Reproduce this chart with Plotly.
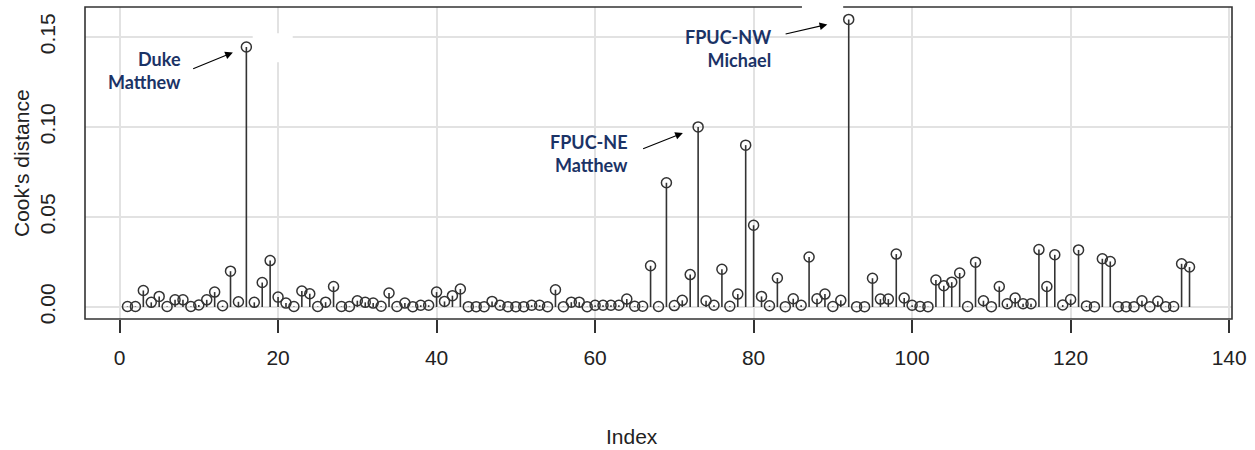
import plotly.graph_objects as go

# Cook's distance for each observation (index 1..135)
index = list(range(1, 136))
cooks_d = [
    0.0003, 0.0003, 0.0092, 0.0026, 0.0059, 0.0003, 0.0040, 0.0040, 0.0003, 0.0011,
    0.0040, 0.0083, 0.0007, 0.0199, 0.0029, 0.1444, 0.0026, 0.0136, 0.0258, 0.0055,
    0.0022, 0.0003, 0.0089, 0.0074, 0.0003, 0.0027, 0.0114, 0.0003, 0.0003, 0.0035,
    0.0026, 0.0022, 0.0004, 0.0078, 0.0003, 0.0022, 0.0002, 0.0010, 0.0010, 0.0083,
    0.0031, 0.0063, 0.0100, 0.0002, 0.0002, 0.0002, 0.0031, 0.0010, 0.0002, 0.0002,
    0.0002, 0.0010, 0.0010, 0.0002, 0.0096, 0.0002, 0.0027, 0.0027, 0.0002, 0.0010,
    0.0010, 0.0010, 0.0010, 0.0044, 0.0004, 0.0004, 0.0229, 0.0003, 0.0690, 0.0008,
    0.0037, 0.0180, 0.1000, 0.0035, 0.0010, 0.0210, 0.0004, 0.0072, 0.0899, 0.0454,
    0.0059, 0.0007, 0.0161, 0.0002, 0.0046, 0.0010, 0.0278, 0.0046, 0.0072, 0.0003,
    0.0037, 0.1597, 0.0002, 0.0002, 0.0160, 0.0044, 0.0044, 0.0294, 0.0050, 0.0010,
    0.0003, 0.0002, 0.0150, 0.0118, 0.0138, 0.0189, 0.0003, 0.0249, 0.0035, 0.0002,
    0.0114, 0.0018, 0.0050, 0.0018, 0.0018, 0.0319, 0.0114, 0.0290, 0.0011, 0.0042,
    0.0317, 0.0006, 0.0002, 0.0268, 0.0253, 0.0002, 0.0002, 0.0002, 0.0035, 0.0002,
    0.0032, 0.0002, 0.0003, 0.0240, 0.0222,
]

x_ticks = [0, 20, 40, 60, 80, 100, 120, 140]
y_ticks = [0.00, 0.05, 0.10, 0.15]
y_tick_text = ["0.00", "0.05", "0.10", "0.15"]

# Labelled influential observations: (index, label text)
callouts = [
    (16, "Duke<br>Matthew"),
    (73, "FPUC-NE<br>Matthew"),
    (92, "FPUC-NW<br>Michael"),
]
# text anchor (x, y) and arrow tail offset / head standoff in px
callout_text_pos = [(7.95, 0.1315), (64.4, 0.0855), (82.45, 0.1434)]
callout_arrow = [(-54.7, 22.3, 14.6), (-56.5, 22.3, 16.4), (-64.6, 15.0, 22.0)]

INK = "#333333"
NAVY = "#1B3366"
GRID = "#e2e2e2"
TEXT = "#222222"

# vertical stems from 0 to each value (type="h")
stem_x, stem_y = [], []
for i, d in zip(index, cooks_d):
    stem_x += [i, i, None]
    stem_y += [0, d, None]

fig = go.Figure()
fig.add_trace(go.Scatter(
    x=stem_x, y=stem_y, mode="lines",
    line=dict(color=INK, width=1.6), hoverinfo="skip", showlegend=False,
))
fig.add_trace(go.Scatter(
    x=index, y=cooks_d, mode="markers",
    marker=dict(symbol="circle-open", size=10, color=INK, line=dict(width=1.5, color=INK)),
    showlegend=False,
))

annotations = []
for (i, label), (tx, ty), (ax, ay, so) in zip(callouts, callout_text_pos, callout_arrow):
    d = cooks_d[index.index(i)]
    annotations.append(dict(
        x=tx, y=ty, xref="x", yref="y", text=f"<b>{label}</b>", showarrow=False,
        xanchor="right", yanchor="middle", align="right",
        font=dict(family="Lato", size=18, color=NAVY),
    ))
    annotations.append(dict(
        x=i, y=d, xref="x", yref="y", text="", showarrow=True,
        ax=ax, ay=ay, standoff=so, arrowhead=2, arrowsize=1.4, arrowwidth=1.1,
        arrowcolor="#000000",
    ))

# axis titles
annotations.append(dict(
    x=0.477, y=-0.3765, xref="paper", yref="paper", text="Index", showarrow=False,
    xanchor="center", yanchor="middle", font=dict(size=21, color=TEXT),
))
annotations.append(dict(
    x=-0.0558, y=0.5, xref="paper", yref="paper", text="Cook's distance", showarrow=False,
    textangle=-90, xanchor="center", yanchor="middle", font=dict(size=21, color=TEXT),
))

shapes = [
    # plot frame
    dict(type="rect", xref="paper", yref="paper", x0=0, x1=1, y0=0, y1=1,
         line=dict(color=INK, width=1.6), fillcolor="rgba(0,0,0,0)", layer="above"),
    # blank patches over the frame/grid
    dict(type="rect", xref="x", yref="y", x0=16.8, x1=21.85, y0=0.1359, y1=0.152,
         line=dict(width=0), fillcolor="white", layer="above"),
    dict(type="rect", xref="x", yref="paper", x0=86.1, x1=91.3, y0=0.994, y1=1.03,
         line=dict(width=0), fillcolor="white", layer="above"),
]

fig.update_layout(
    width=1255, height=450,
    margin=dict(l=85, r=23, t=7, b=131, autoexpand=False),
    paper_bgcolor="white", plot_bgcolor="white",
    font=dict(family="Liberation Sans, Arial", size=21, color=TEXT),
    annotations=annotations, shapes=shapes,
)
fig.update_xaxes(
    range=[-4.36, 140.36], tickvals=x_ticks, showgrid=True, gridcolor=GRID, gridwidth=1.5,
    zeroline=False, showline=False, ticks="outside", ticklen=13, tickwidth=1.5,
    tickcolor=INK, ticklabelstandoff=7, automargin=False,
)
fig.update_yaxes(
    range=[-0.00665, 0.1666], tickvals=y_ticks, ticktext=y_tick_text, tickangle=-90,
    showgrid=True, gridcolor=GRID, gridwidth=1.5, zeroline=False, showline=False,
    ticks="", ticklabelstandoff=25, automargin=False,
)

fig.write_html("out.html")
